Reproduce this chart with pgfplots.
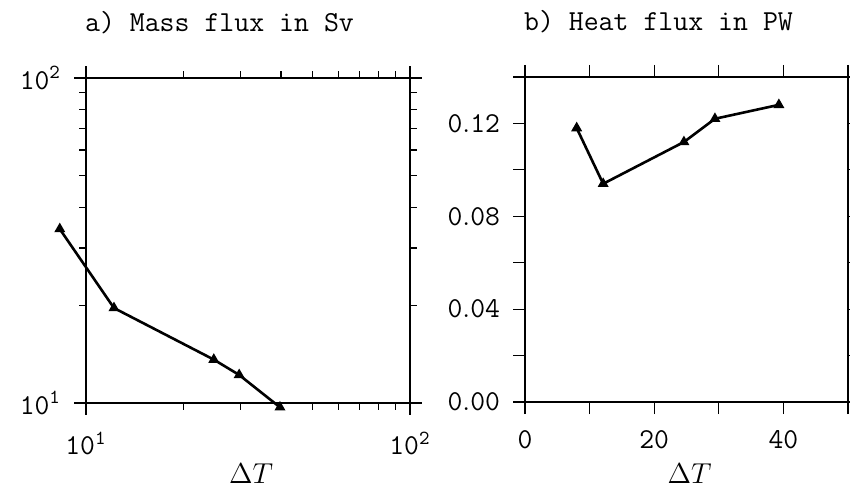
\documentclass[border=0pt]{standalone}
\usepackage{pgfplots}
\pgfplotsset{compat=1.18}
\pgfplotstableread{
x y
8.3 34.3
12.2 19.6
24.8 13.6
29.7 12.2
39.7 9.7
}\massflux
\pgfplotstableread{
x y
8.0 0.118
12.1 0.094
24.6 0.112
29.4 0.122
39.3 0.128
}\heatflux
\begin{document}
\begin{tikzpicture}
\pgfplotsset{
  every axis/.append style={
    scale only axis,
    clip=false,
    tick align=outside,
    axis line style={line width=0.6pt},
    major tick length=6pt,
    minor tick length=3.5pt,
    every tick/.style={black,line width=0.6pt},
    ticklabel style={font=\fontsize{14}{16}\selectfont},
    xticklabel style={yshift=-5pt},
    yticklabel style={xshift=-3pt},
    label style={font=\fontsize{14}{16}\selectfont},
    xlabel style={at={(axis description cs:0.5,0)},anchor=base,yshift=-40.5pt,xshift=1.5pt},
    every axis title shift=0pt,
    title style={at={(axis description cs:0,1)},anchor=base west,yshift=23pt,xshift=-4pt,font=\fontsize{14.5}{17}\selectfont\ttfamily},
  },
  fluxline/.style={black,line width=1.3pt,mark=triangle*,mark size=2.6pt,mark options={solid,fill=black,line width=0.6pt}},
}
\begin{axis}[
  at={(43pt,44.5pt)}, anchor=south west,
  width=162pt, height=162.5pt,
  xmode=log, ymode=log,
  xmin=10, xmax=100, ymin=10, ymax=100,
  xtick={10,100}, ytick={10,100},
  xticklabels={$\mathtt{10}^{\mathtt{1}}$,$\mathtt{10}^{\mathtt{2}}$},
  yticklabels={$\mathtt{10}^{\mathtt{1}}$,$\mathtt{10}^{\mathtt{2}}$},
  minor xtick={20,30,40,50,60,70,80,90},
  minor ytick={20,30,40,50,60,70,80,90},
  xlabel={$\Delta T$},
  title={a) Mass flux in Sv},
]
\addplot[fluxline] table[x=x,y=y] {\massflux};
\end{axis}
\begin{axis}[
  at={(262.5pt,45pt)}, anchor=south west,
  width=161.5pt, height=162.5pt,
  xmin=0, xmax=50, ymin=0, ymax=0.14,
  xtick={0,10,20,30,40,50},
  xticklabels={$\mathtt{0}$,,$\mathtt{20}$,,$\mathtt{40}$,},
  ytick={0,0.02,0.04,0.06,0.08,0.10,0.12,0.14},
  yticklabels={$\mathtt{0.00}$,,$\mathtt{0.04}$,,$\mathtt{0.08}$,,$\mathtt{0.12}$,},
  xlabel={$\Delta T$},
  title={b) Heat flux in PW},
]
\addplot[fluxline] table[x=x,y=y] {\heatflux};
\end{axis}
\pgfresetboundingbox
\path[use as bounding box] (0pt,0pt) rectangle (425pt,246pt);
\end{tikzpicture}
\end{document}
